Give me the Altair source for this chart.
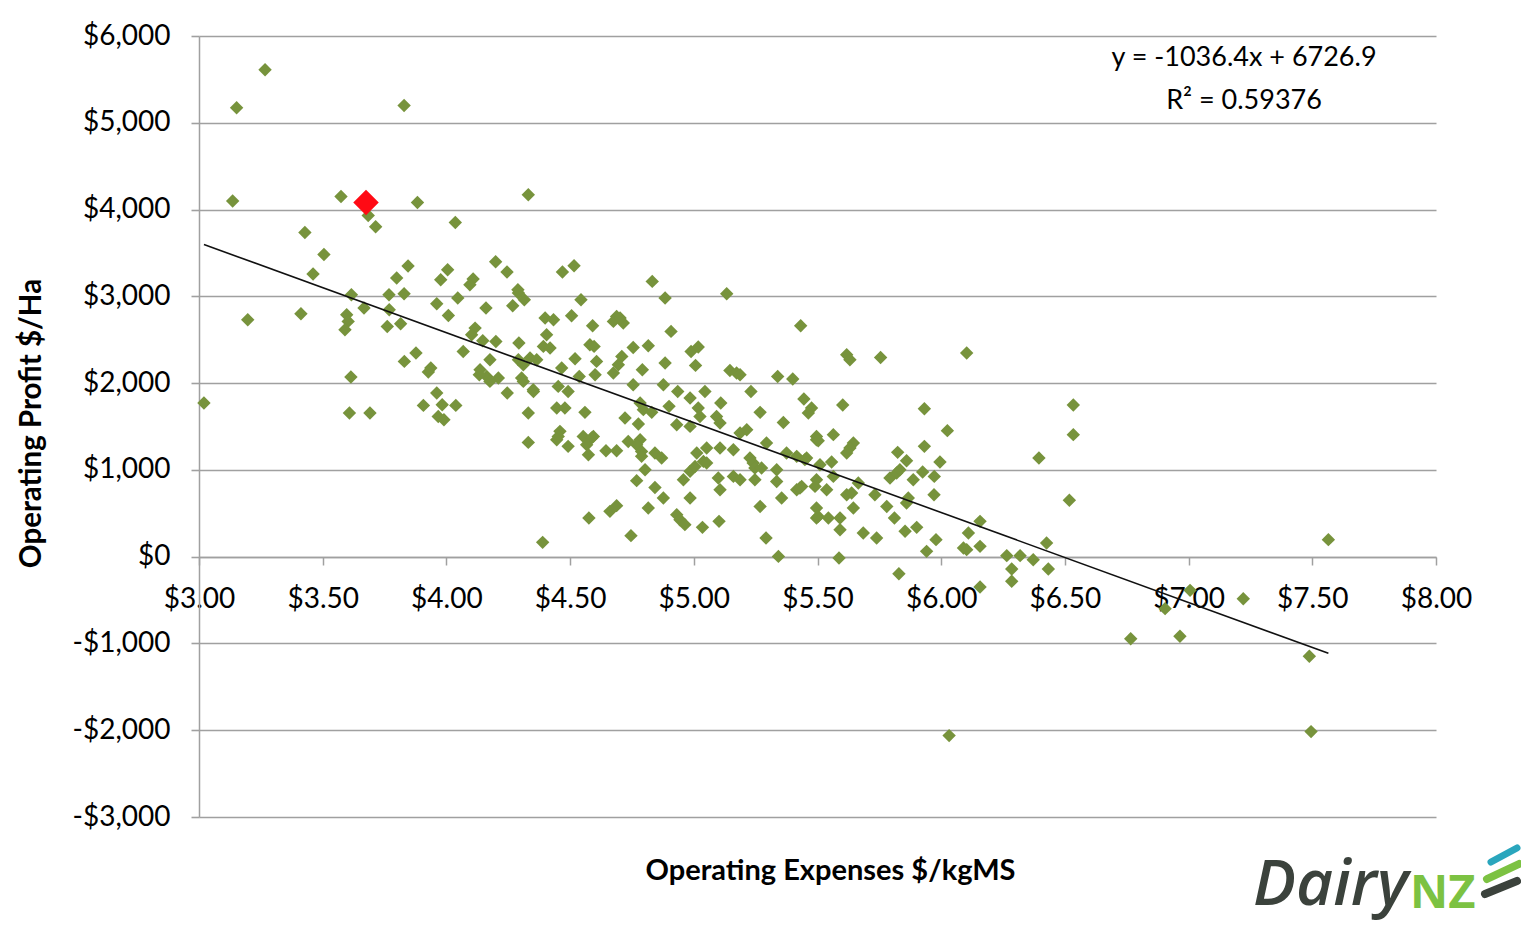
import altair as alt
import pandas as pd

# ---- data ----
opex = [3.267, 3.152, 3.829, 3.136, 3.574, 3.883, 4.331, 3.684, 3.714, 4.036,
        3.428, 3.505, 3.461, 3.845, 3.799, 4.005, 3.977, 4.199, 4.245, 4.108,
        4.095, 4.289, 3.616, 3.768, 3.829, 3.667, 3.769, 3.961, 4.046, 4.160,
        4.268, 4.291, 4.315, 3.197, 3.412, 3.597, 3.603, 3.590, 3.761, 3.815,
        4.008, 4.116, 4.102, 4.147, 4.200, 4.293, 4.068, 3.877, 3.830, 3.937,
        3.927, 4.176, 4.136, 4.163, 4.210, 4.176, 4.133, 4.291, 4.311, 4.338,
        4.365, 4.304, 4.311, 4.351, 4.246, 3.614, 3.020, 3.608, 3.691, 3.961,
        3.983, 3.907, 4.038, 3.967, 3.990, 4.331, 4.331, 4.469, 4.516, 4.832,
        4.884, 5.133, 4.544, 4.399, 4.433, 4.506, 4.591, 4.688, 4.675, 4.715,
        4.702, 4.908, 5.432, 4.405, 4.392, 4.419, 4.580, 4.597, 4.755, 4.816,
        4.989, 5.018, 4.520, 4.607, 4.709, 4.695, 4.675, 4.792, 4.884, 5.007,
        5.146, 5.173, 5.187, 5.339, 5.400, 4.466, 4.352, 4.452, 4.492, 4.537,
        4.601, 4.755, 4.877, 4.935, 4.985, 5.045, 5.109, 5.231, 5.445, 5.476,
        5.463, 5.268, 5.362, 4.446, 4.479, 4.560, 4.783, 4.796, 4.830, 4.900,
        5.018, 5.025, 5.092, 5.106, 4.722, 4.776, 4.931, 4.985, 5.187, 4.459,
        4.452, 4.553, 4.594, 5.496, 4.446, 4.492, 4.587, 4.567, 4.574, 4.645,
        4.688, 4.735, 4.783, 4.769, 4.789, 4.789, 4.843, 4.870, 4.803, 4.769,
        4.843, 4.877, 4.958, 4.985, 5.005, 5.012, 5.052, 5.106, 5.160, 5.039,
        5.052, 5.099, 5.106, 5.160, 5.187, 5.240, 5.227, 5.247, 5.274, 5.247,
        5.335, 5.335, 5.375, 5.416, 5.456, 5.294, 5.214, 5.496, 5.496, 5.490,
        5.416, 5.436, 5.355, 5.268, 4.985, 4.816, 4.661, 4.688, 4.576, 4.931,
        4.944, 4.964, 5.035, 5.102, 4.746, 4.389, 5.292, 5.342, 5.496, 5.496,
        5.618, 5.631, 5.755, 6.103, 5.602, 5.932, 6.025, 5.503, 5.564, 5.645,
        5.631, 5.618, 5.824, 5.860, 5.932, 5.995, 6.534, 6.534, 6.395, 5.449,
        5.510, 5.557, 5.537, 5.564, 5.665, 5.618, 5.638, 5.732, 5.793, 5.820,
        5.833, 5.887, 5.925, 5.972, 5.971, 5.429, 5.867, 6.518, 5.860, 5.780,
        5.645, 5.503, 5.544, 5.591, 5.591, 5.811, 5.685, 5.739, 5.854, 5.901,
        5.979, 5.941, 5.587, 5.829, 6.157, 6.110, 6.090, 6.103, 6.157, 6.157,
        6.265, 6.319, 6.372, 6.285, 6.285, 6.426, 6.433, 7.565, 7.006, 6.905,
        7.221, 6.766, 6.965, 7.488, 6.032, 7.495]
profit = [5611, 5173, 5200, 4098, 4151, 4082, 4171, 3932, 3802, 3851,
          3736, 3483, 3257, 3349, 3211, 3306, 3191, 3399, 3280, 3199,
          3134, 3076, 3018, 3018, 3030, 2865, 2846, 2915, 2980, 2865,
          2892, 3038, 2961, 2730, 2800, 2788, 2711, 2615, 2653, 2684,
          2780, 2634, 2557, 2488, 2480, 2462, 2365, 2347, 2250, 2174,
          2128, 2270, 2154, 2077, 2059, 2020, 2097, 2270, 2212, 2289,
          2270, 2059, 2020, 1924, 1886, 2070, 1771, 1655, 1655, 1886,
          1751, 1743, 1743, 1616, 1578, 1655, 1317, 3280, 3353, 3172,
          2980, 3030, 2961, 2750, 2730, 2776, 2661, 2768, 2711, 2692,
          2750, 2596, 2661, 2557, 2423, 2404, 2442, 2423, 2411, 2431,
          2365, 2416, 2281, 2250, 2308, 2212, 2116, 2154, 2231, 2204,
          2146, 2116, 2097, 2077, 2047, 2174, 1904, 1962, 1904, 2077,
          2097, 1981, 1981, 1904, 1828, 1904, 1771, 1904, 1817, 1713,
          1655, 1663, 1547, 1713, 1713, 1663, 1771, 1694, 1663, 1732,
          1713, 1616, 1616, 1540, 1598, 1529, 1521, 1501, 1425, 1444,
          1386, 1386, 1386, 1386, 1348, 1271, 1367, 1290, 1175, 1221,
          1221, 1328, 1348, 1290, 1213, 1156, 1195, 1137, 1002, 876,
          798, 676, 887, 983, 1040, 1195, 1252, 1252, 1233, 1098,
          1079, 907, 772, 925, 887, 1079, 1137, 1021, 1021, 887,
          1002, 867, 1195, 1156, 1137, 1310, 1463, 1348, 887, 810,
          772, 810, 676, 579, 676, 561, 522, 588, 446, 484,
          426, 369, 338, 407, 242, 165, 215, 3, 561, 446,
          2327, 2270, 2296, 2347, 1748, 1705, 1452, 1336, 1406, 1310,
          1252, 1195, 1202, 1106, 1271, 1091, 1748, 1406, 1137, 1118,
          1060, 1091, 772, 925, 849, 714, 734, 714, 907, 964,
          1002, 887, 976, 925, 714, 791, 676, 650, 619, 579,
          561, 464, 446, 446, 311, 446, 273, 215, 292, 338,
          196, 61, -15, -196, 407, 273, 100, 81, 119, -349,
          12, 12, -35, -142, -284, 158, -142, 196, -388, -599,
          -484, -945, -918, -1148, -2062, -2016]

highlight_opex = [3.675]
highlight_profit = [4082]

trend_slope = -1036.4
trend_intercept = 6726.9

eq_lines = ["y = -1036.4x + 6726.9", "R\u00b2 = 0.59376"]
eq_opex = [7.224, 7.224]
eq_profit = [5749, 5253]

x_ticks = [3.0, 3.5, 4.0, 4.5, 5.0, 5.5, 6.0, 6.5, 7.0, 7.5, 8.0]
y_ticks = [-3000, -2000, -1000, 0, 1000, 2000, 3000, 4000, 5000, 6000]

# ---- tables ----
farms = pd.DataFrame({"opex": opex, "profit": profit})
hl = pd.DataFrame({"opex": highlight_opex, "profit": highlight_profit})
x_lo, x_hi = min(opex), max(opex)
trend = pd.DataFrame({
    "opex": [x_lo, x_hi],
    "profit": [trend_slope * x_lo + trend_intercept, trend_slope * x_hi + trend_intercept],
})
eq = pd.DataFrame({"opex": eq_opex, "profit": eq_profit, "label": eq_lines})

FONT = "Lato"
GRID = "#a0a0a0"

x_enc = alt.X(
    "opex:Q",
    scale=alt.Scale(domain=[3, 8], nice=False, zero=False),
    axis=alt.Axis(
        values=x_ticks,
        labelExpr="'$' + format(datum.value, '.2f')",
        title="Operating Expenses $/kgMS",
        offset=-260,
        grid=False,
        domainColor=GRID, domainWidth=1.5,
        tickColor=GRID, tickWidth=1.5, tickSize=8,
        labelFlush=False, labelOverlap=False, labelBound=False,
        labelPadding=20, labelFont=FONT, labelFontSize=28, labelColor="black",
        titleFont=FONT, titleFontSize=29, titleFontWeight="bold", titleColor="black",
        titleX=631, titleY=313, titleAlign="center", titleBaseline="middle",
    ),
)
y_enc = alt.Y(
    "profit:Q",
    scale=alt.Scale(domain=[-3000, 6000], nice=False),
    axis=alt.Axis(
        values=y_ticks,
        labelExpr="(datum.value < 0 ? '-' : '') + '$' + format(abs(datum.value), ',')",
        title="Operating Profit $/Ha",
        grid=True, gridColor=GRID, gridWidth=1.6,
        domainColor=GRID, domainWidth=1.5,
        tickColor=GRID, tickWidth=1.6, tickSize=8,
        labelFlush=False, labelOverlap=False,
        labelPadding=21, labelFont=FONT, labelFontSize=28, labelColor="black",
        titleFont=FONT, titleFontSize=29.5, titleFontWeight="bold", titleColor="black",
        titleX=-168, titleY=387, titleAngle=270, titleAlign="center", titleBaseline="middle",
    ),
)

points = alt.Chart(farms).mark_point(
    shape="diamond", filled=True, size=180, color="#77933c", opacity=1
).encode(x=x_enc, y=y_enc)

line = alt.Chart(trend).mark_line(color="#111111", strokeWidth=1.6).encode(x=x_enc, y=y_enc)

red = alt.Chart(hl).mark_point(
    shape="diamond", filled=True, size=650, color="#ff0a14", opacity=1
).encode(x=x_enc, y=y_enc)

eq_text = alt.Chart(eq).mark_text(
    font=FONT, fontSize=27, color="black", align="center", baseline="middle"
).encode(x=x_enc, y=y_enc, text="label:N")

# ---- DairyNZ logo (decoration in the bottom-right margin) ----
logo_df = pd.DataFrame({"t": ["Dairy"]})
logo_dairy = alt.Chart(logo_df).mark_text(
    font="Open Sans", fontSize=64, fontStyle="italic", fontWeight=600,
    color="#3b423c", align="left", baseline="alphabetic"
).encode(x=alt.value(1054), y=alt.value(869), text="t:N")
logo_nz = alt.Chart(pd.DataFrame({"t": ["NZ"]})).mark_text(
    font="Open Sans", fontSize=47, fontWeight="bold",
    color="#7cc242", align="left", baseline="alphabetic"
).encode(x=alt.value(1211), y=alt.value(872), text="t:N")
sw_blue = alt.Chart(pd.DataFrame({"a": [0]})).mark_rule(
    color="#2aa6bd", strokeWidth=7, strokeCap="round"
).encode(x=alt.value(1292), x2=alt.value(1318), y=alt.value(826), y2=alt.value(812))
sw_green = alt.Chart(pd.DataFrame({"a": [0]})).mark_rule(
    color="#7cc242", strokeWidth=8, strokeCap="round"
).encode(x=alt.value(1288), x2=alt.value(1320), y=alt.value(843), y2=alt.value(828))
sw_dark = alt.Chart(pd.DataFrame({"a": [0]})).mark_rule(
    color="#3b423c", strokeWidth=8, strokeCap="round"
).encode(x=alt.value(1286), x2=alt.value(1318), y=alt.value(858), y2=alt.value(845))

chart = alt.layer(
    points, line, red, eq_text, logo_dairy, logo_nz, sw_blue, sw_green, sw_dark
).properties(
    width=1237, height=781,
    autosize=alt.AutoSizeParams(type="none"),
    padding={"left": 191, "top": 28, "right": 85, "bottom": 114},
    background="white",
).configure_view(stroke=None)

chart.save("out.html", embed_options={"renderer": "svg", "actions": False})
